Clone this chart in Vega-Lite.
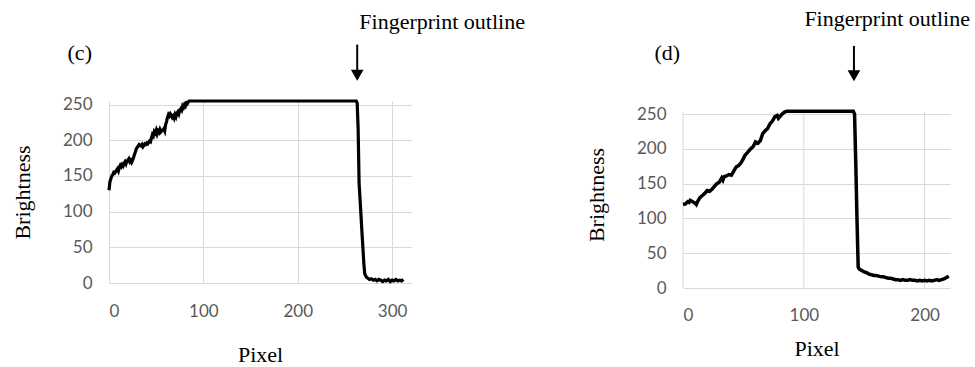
{
  "$schema": "https://vega.github.io/schema/vega-lite/v6.json",
  "padding": {"left": 11, "top": 8, "right": 0, "bottom": 0},
  "background": "white",
  "bounds": "flush",
  "spacing": 272,
  "config": {
    "view": {"stroke": null},
    "axis": {
      "grid": true, "gridColor": "#d9d9d9", "gridWidth": 1,
      "domain": false, "ticks": false,
      "labelFont": "Lato", "labelFontSize": 17, "labelColor": "#595959",
      "titleFont": "Liberation Serif", "titleFontSize": 22, "titleFontWeight": "normal", "titleColor": "black"
    },
    "text": {"font": "Liberation Serif", "fontSize": 22, "align": "center", "baseline": "middle", "color": "black"}
  },
  "datasets": {
    "c": [
      {"x":0,"y":130},{"x":1,"y":142},{"x":2,"y":146},{"x":3,"y":150},{"x":4,"y":152},{"x":5,"y":155},{"x":6,"y":154},{"x":7,"y":156},{"x":8,"y":158},{"x":9,"y":160},
      {"x":10,"y":157},{"x":11,"y":162},{"x":12,"y":165},{"x":13,"y":163},{"x":14,"y":166},{"x":15,"y":164},{"x":16,"y":168},{"x":17,"y":170},{"x":18,"y":167},{"x":19,"y":171},
      {"x":20,"y":172},{"x":21,"y":174},{"x":22,"y":170},{"x":23,"y":172},{"x":24,"y":169},{"x":25,"y":172},{"x":26,"y":176},{"x":27,"y":180},{"x":28,"y":184},{"x":29,"y":188},
      {"x":30,"y":190},{"x":31,"y":192},{"x":32,"y":194},{"x":33,"y":193},{"x":34,"y":192},{"x":35,"y":194},{"x":36,"y":191},{"x":37,"y":193},{"x":38,"y":195},{"x":39,"y":194},
      {"x":40,"y":196},{"x":41,"y":195},{"x":42,"y":197},{"x":43,"y":199},{"x":44,"y":198},{"x":45,"y":203},{"x":46,"y":208},{"x":47,"y":206},{"x":48,"y":212},{"x":49,"y":210},
      {"x":50,"y":214},{"x":51,"y":209},{"x":52,"y":213},{"x":53,"y":211},{"x":54,"y":215},{"x":55,"y":212},{"x":56,"y":214},{"x":57,"y":214},{"x":58,"y":216},{"x":59,"y":213},
      {"x":60,"y":222},{"x":61,"y":226},{"x":62,"y":232},{"x":63,"y":236},{"x":64,"y":234},{"x":65,"y":237},{"x":66,"y":235},{"x":67,"y":232},{"x":68,"y":234},{"x":69,"y":231},
      {"x":70,"y":236},{"x":71,"y":233},{"x":72,"y":238},{"x":73,"y":240},{"x":74,"y":237},{"x":75,"y":242},{"x":76,"y":244},{"x":77,"y":242},{"x":78,"y":248},{"x":79,"y":246},
      {"x":80,"y":250},{"x":81,"y":248},{"x":82,"y":252},{"x":83,"y":251},{"x":84,"y":254},{"x":85,"y":255},{"x":100,"y":255},{"x":150,"y":255},{"x":200,"y":255},{"x":250,"y":255},
      {"x":262,"y":255},{"x":263,"y":252},{"x":264,"y":215},{"x":265,"y":140},{"x":266,"y":118},{"x":267,"y":95},{"x":268,"y":72},{"x":269,"y":50},{"x":270,"y":28},{"x":271,"y":13},
      {"x":272,"y":10},{"x":273,"y":8},{"x":274,"y":7},{"x":276,"y":5},{"x":278,"y":6},{"x":280,"y":4},{"x":282,"y":5},{"x":284,"y":3},{"x":286,"y":5},{"x":288,"y":4},
      {"x":290,"y":2},{"x":292,"y":4},{"x":294,"y":3},{"x":296,"y":5},{"x":298,"y":2},{"x":300,"y":4},{"x":302,"y":3},{"x":304,"y":5},{"x":306,"y":3},{"x":308,"y":4},
      {"x":310,"y":3},{"x":312,"y":5}
    ],
    "d": [
      {"x":0,"y":120},{"x":2,"y":121},{"x":4,"y":124},{"x":5,"y":123},{"x":6,"y":126},{"x":8,"y":124},{"x":10,"y":122},{"x":11,"y":120},{"x":12,"y":124},{"x":14,"y":130},
      {"x":16,"y":133},{"x":18,"y":136},{"x":20,"y":140},{"x":22,"y":139},{"x":24,"y":142},{"x":26,"y":146},{"x":28,"y":150},{"x":30,"y":152},{"x":32,"y":158},{"x":33,"y":155},
      {"x":34,"y":160},{"x":36,"y":161},{"x":38,"y":163},{"x":40,"y":162},{"x":42,"y":168},{"x":44,"y":174},{"x":46,"y":176},{"x":48,"y":180},{"x":50,"y":186},{"x":51,"y":190},
      {"x":52,"y":192},{"x":54,"y":196},{"x":56,"y":200},{"x":58,"y":203},{"x":60,"y":210},{"x":62,"y":208},{"x":64,"y":212},{"x":66,"y":222},{"x":68,"y":226},{"x":70,"y":229},
      {"x":72,"y":236},{"x":74,"y":240},{"x":76,"y":246},{"x":78,"y":248},{"x":79,"y":244},{"x":80,"y":246},{"x":82,"y":250},{"x":84,"y":253},{"x":86,"y":254},{"x":100,"y":254},
      {"x":120,"y":254},{"x":141,"y":254},{"x":142,"y":250},{"x":143,"y":180},{"x":144,"y":100},{"x":145,"y":30},{"x":146,"y":27},{"x":148,"y":25},{"x":150,"y":23},{"x":152,"y":22},
      {"x":154,"y":20},{"x":156,"y":19},{"x":158,"y":18},{"x":160,"y":18},{"x":162,"y":17},{"x":164,"y":16},{"x":166,"y":16},{"x":168,"y":15},{"x":170,"y":14},{"x":172,"y":14},
      {"x":174,"y":13},{"x":176,"y":12},{"x":178,"y":12},{"x":180,"y":11},{"x":182,"y":12},{"x":184,"y":11},{"x":186,"y":11},{"x":188,"y":12},{"x":190,"y":11},{"x":192,"y":11},
      {"x":194,"y":10},{"x":196,"y":11},{"x":198,"y":10},{"x":200,"y":11},{"x":202,"y":10},{"x":204,"y":11},{"x":206,"y":10},{"x":208,"y":11},{"x":210,"y":12},{"x":212,"y":11},
      {"x":214,"y":12},{"x":216,"y":13},{"x":218,"y":15},{"x":220,"y":17}
    ],
    "gridD": [{"g": 0}, {"g": 100}, {"g": 200}]
  },
  "hconcat": [
    {
      "width": 302, "height": 182,
      "encoding": {
        "x": {"type": "quantitative", "title": "Pixel",
              "scale": {"domain": [0, 320], "nice": false},
              "axis": {"values": [0, 100, 200, 300], "labelPadding": 20, "titlePadding": 25}},
        "y": {"type": "quantitative", "title": "Brightness",
              "scale": {"domain": [0, 255], "nice": false},
              "axis": {"values": [0, 50, 100, 150, 200, 250], "labelPadding": 17, "titlePadding": 28}}
      },
      "layer": [
        {
          "data": {"name": "c"},
          "mark": {"type": "line", "color": "black", "strokeWidth": 3.2},
          "encoding": {"x": {"field": "x"}, "y": {"field": "y"}}
        },
        {
          "data": {"values": [{}]},
          "mark": {"type": "text"},
          "encoding": {"x": {"datum": -31}, "y": {"datum": 322}, "text": {"value": "(c)"}}
        },
        {
          "data": {"values": [{}]},
          "mark": {"type": "text"},
          "encoding": {"x": {"datum": 353}, "y": {"datum": 365}, "text": {"value": "Fingerprint outline"}}
        },
        {
          "data": {"values": [{}]},
          "mark": {"type": "rule", "color": "black", "strokeWidth": 2},
          "encoding": {"x": {"datum": 263}, "y": {"datum": 334}, "y2": {"datum": 294}}
        },
        {
          "data": {"values": [{}]},
          "mark": {"type": "point", "shape": "triangle-down", "filled": true, "color": "black", "size": 160, "opacity": 1},
          "encoding": {"x": {"datum": 263}, "y": {"datum": 291}}
        }
      ]
    },
    {
      "width": 267, "height": 187,
      "encoding": {
        "x": {"type": "quantitative", "title": "Pixel",
              "scale": {"domain": [0, 221], "nice": false},
              "axis": {"values": [0, 100, 200], "grid": false, "labelPadding": 19, "titlePadding": 15}},
        "y": {"type": "quantitative", "title": "Brightness",
              "scale": {"domain": [0, 268.8], "nice": false},
              "axis": {"values": [0, 50, 100, 150, 200, 250], "labelPadding": 17, "titlePadding": 28}}
      },
      "layer": [
        {
          "data": {"name": "gridD"},
          "mark": {"type": "rule", "color": "#d9d9d9", "strokeWidth": 1},
          "encoding": {"x": {"field": "g"}, "y": {"datum": 0}, "y2": {"datum": 253}}
        },
        {
          "data": {"name": "d"},
          "mark": {"type": "line", "color": "black", "strokeWidth": 3.5},
          "encoding": {"x": {"field": "x"}, "y": {"field": "y"}}
        },
        {
          "data": {"values": [{}]},
          "mark": {"type": "text"},
          "encoding": {"x": {"datum": -13}, "y": {"datum": 338}, "text": {"value": "(d)"}}
        },
        {
          "data": {"values": [{}]},
          "mark": {"type": "text"},
          "encoding": {"x": {"datum": 169}, "y": {"datum": 386}, "text": {"value": "Fingerprint outline"}}
        },
        {
          "data": {"values": [{}]},
          "mark": {"type": "rule", "color": "black", "strokeWidth": 2},
          "encoding": {"x": {"datum": 141.5}, "y": {"datum": 348}, "y2": {"datum": 308}}
        },
        {
          "data": {"values": [{}]},
          "mark": {"type": "point", "shape": "triangle-down", "filled": true, "color": "black", "size": 160, "opacity": 1},
          "encoding": {"x": {"datum": 141.5}, "y": {"datum": 305}}
        }
      ]
    }
  ]
}
